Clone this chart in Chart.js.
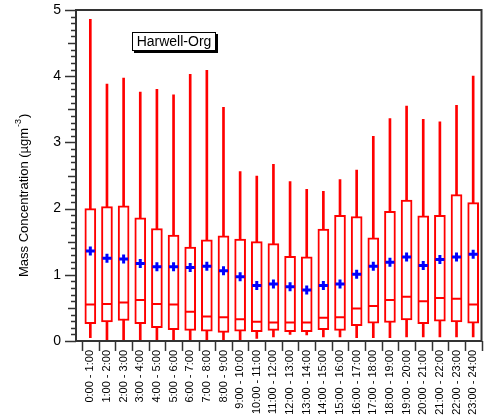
<!DOCTYPE html>
<html>
<head>
<meta charset="utf-8">
<script src="https://cdn.jsdelivr.net/npm/chart.js@4"></script>
<style>
  body { margin: 0; background: #fff; }
  canvas { display: block; }
</style>
</head>
<body>
<canvas id="grafica" width="489" height="416"></canvas>
<script>
// Datos (ug m-3)
const horas = ["0:00 - 1:00", "1:00 - 2:00", "2:00 - 3:00", "3:00 - 4:00", "4:00 - 5:00", "5:00 - 6:00",
  "6:00 - 7:00", "7:00 - 8:00", "8:00 - 9:00", "9:00 - 10:00", "10:00 - 11:00", "11:00 - 12:00",
  "12:00 - 13:00", "13:00 - 14:00", "14:00 - 15:00", "15:00 - 16:00", "16:00 - 17:00", "17:00 - 18:00",
  "18:00 - 19:00", "19:00 - 20:00", "20:00 - 21:00", "21:00 - 22:00", "22:00 - 23:00", "23:00 - 24:00"];
const minimos = [0.05, 0.02, 0.02, 0.02, 0.0, 0.0, 0.0, 0.0, 0.0, 0.0, 0.04, 0.06,
  0.10, 0.09, 0.06, 0.06, 0.05, 0.05, 0.05, 0.06, 0.06, 0.06, 0.06, 0.06];
const cuartil1 = [0.26, 0.29, 0.31, 0.26, 0.20, 0.17, 0.16, 0.15, 0.13, 0.15, 0.14, 0.16,
  0.14, 0.14, 0.17, 0.16, 0.23, 0.27, 0.28, 0.32, 0.26, 0.30, 0.29, 0.27];
const medianas = [0.55, 0.56, 0.58, 0.62, 0.56, 0.55, 0.44, 0.37, 0.36, 0.33, 0.29, 0.28,
  0.28, 0.28, 0.35, 0.36, 0.49, 0.53, 0.62, 0.67, 0.60, 0.65, 0.64, 0.55];
const cuartil3 = [2.00, 2.03, 2.04, 1.86, 1.70, 1.60, 1.42, 1.53, 1.59, 1.54, 1.50, 1.47,
  1.28, 1.27, 1.69, 1.90, 1.88, 1.56, 1.96, 2.13, 1.89, 1.90, 2.21, 2.09];
const maximos = [4.86, 3.88, 3.97, 3.76, 3.80, 3.72, 4.03, 4.09, 3.53, 2.56, 2.49, 2.67,
  2.41, 2.29, 2.26, 2.44, 2.58, 3.09, 3.36, 3.55, 3.35, 3.31, 3.56, 4.00];
const medias = [1.36, 1.25, 1.24, 1.17, 1.12, 1.12, 1.11, 1.13, 1.06, 0.97, 0.84, 0.86,
  0.82, 0.77, 0.84, 0.86, 1.01, 1.13, 1.19, 1.27, 1.14, 1.23, 1.27, 1.31];
const ticksY = [0, 1, 2, 3, 4, 5];

const fuente = "'Liberation Sans', Arial, sans-serif";
const rojo = "#ff0000";
const azul = "#0000ff";

// Marco, marcas de los ejes, titulo del eje y caja de leyenda
const marcoPlugin = {
    id: "marco",
    afterDraw(chart) {
        const ctx = chart.ctx;
        const area = chart.chartArea;
        const y = chart.scales.y;
        const x = chart.scales.x;
        const ejeX = area.left - 6;

        ctx.save();
        ctx.strokeStyle = "#333";
        ctx.lineWidth = 1.5;

        // marcas del eje y (cada 0.1)
        for (let i = 0; i <= 50; i++) {
            const py = Math.round(y.getPixelForValue(i / 10)) + 0.5;
            let largo = 5;
            if (i % 10 === 0) largo = 11;
            else if (i % 5 === 0) largo = 8;
            ctx.beginPath();
            ctx.moveTo(ejeX - largo, py);
            ctx.lineTo(ejeX, py);
            ctx.stroke();
        }

        // marcas del eje x entre categorias
        for (let i = 0; i <= horas.length; i++) {
            const px = Math.round(x.getPixelForValue(i - 0.5)) + 0.5;
            ctx.beginPath();
            ctx.moveTo(px, area.bottom);
            ctx.lineTo(px, area.bottom + 10);
            ctx.stroke();
        }

        // marco
        ctx.lineWidth = 2;
        ctx.strokeRect(ejeX, area.top, area.right - ejeX, area.bottom - area.top);

        // titulo del eje y con superindice
        ctx.fillStyle = "#000";
        ctx.translate(28, 277);
        ctx.rotate(-Math.PI / 2);
        ctx.textAlign = "left";
        ctx.textBaseline = "alphabetic";
        ctx.font = "13px " + fuente;
        const texto = "Mass Concentration (\u00b5gm";
        ctx.fillText(texto, 0, 0);
        const w1 = ctx.measureText(texto).width;
        ctx.font = "9px " + fuente;
        ctx.fillText("-3", w1 + 1, -7);
        const w2 = ctx.measureText("-3").width;
        ctx.font = "13px " + fuente;
        ctx.fillText(")", w1 + w2 + 2, 0);
        ctx.restore();

        // caja de leyenda
        ctx.save();
        ctx.fillStyle = "#000";
        ctx.fillRect(134, 34, 84, 19);
        ctx.fillStyle = "#fff";
        ctx.fillRect(132, 32, 84, 19);
        ctx.strokeStyle = "#000";
        ctx.lineWidth = 1;
        ctx.strokeRect(132.5, 32.5, 83, 18);
        ctx.fillStyle = "#000";
        ctx.font = "14px " + fuente;
        ctx.textAlign = "center";
        ctx.textBaseline = "middle";
        ctx.fillText("Harwell-Org", 174, 42);
        ctx.restore();
    }
};

const ctxGrafica = document.getElementById("grafica").getContext("2d");
new Chart(ctxGrafica, {
    type: "bar",
    data: {
        labels: horas,
        datasets: [
            {
                label: "Bigotes",
                data: horas.map((h, i) => [minimos[i], maximos[i]]),
                backgroundColor: rojo,
                borderWidth: 0,
                barThickness: 2,
                grouped: false,
                order: 3
            },
            {
                label: "Caja",
                data: horas.map((h, i) => [cuartil1[i], cuartil3[i]]),
                backgroundColor: "#fff",
                borderColor: rojo,
                borderWidth: 2,
                borderSkipped: false,
                barThickness: 11,
                grouped: false,
                order: 2
            },
            {
                type: "line",
                label: "Mediana",
                data: medianas,
                showLine: false,
                pointStyle: "line",
                pointRadius: 5,
                pointBorderWidth: 2,
                pointBorderColor: rojo,
                order: 1
            },
            {
                type: "line",
                label: "Media",
                data: medias,
                showLine: false,
                pointStyle: "cross",
                pointRadius: 4.5,
                pointBorderWidth: 3,
                pointBorderColor: azul,
                order: 0
            }
        ]
    },
    options: {
        responsive: false,
        animation: false,
        layout: { padding: { top: 10, right: 4, left: 0, bottom: 0 } },
        plugins: {
            legend: { display: false },
            tooltip: { enabled: false }
        },
        scales: {
            x: {
                offset: true,
                grid: { display: false },
                border: { display: false },
                ticks: {
                    autoSkip: false,
                    maxRotation: 90,
                    minRotation: 90,
                    padding: 1,
                    color: "#000",
                    font: { family: fuente, size: 11 }
                },
                afterFit(scale) { scale.height = 75; }
            },
            y: {
                min: 0,
                max: 5,
                grid: { display: false },
                border: { display: false },
                ticks: {
                    stepSize: 1,
                    padding: 13,
                    color: "#000",
                    font: { family: fuente, size: 14 },
                    callback: (v) => ticksY.includes(v) ? v : ""
                },
                afterFit(scale) {
                    scale.width = 82;
                    scale.paddingTop = 0;
                    scale.paddingBottom = 0;
                }
            }
        }
    },
    plugins: [marcoPlugin]
});
</script>
</body>
</html>
